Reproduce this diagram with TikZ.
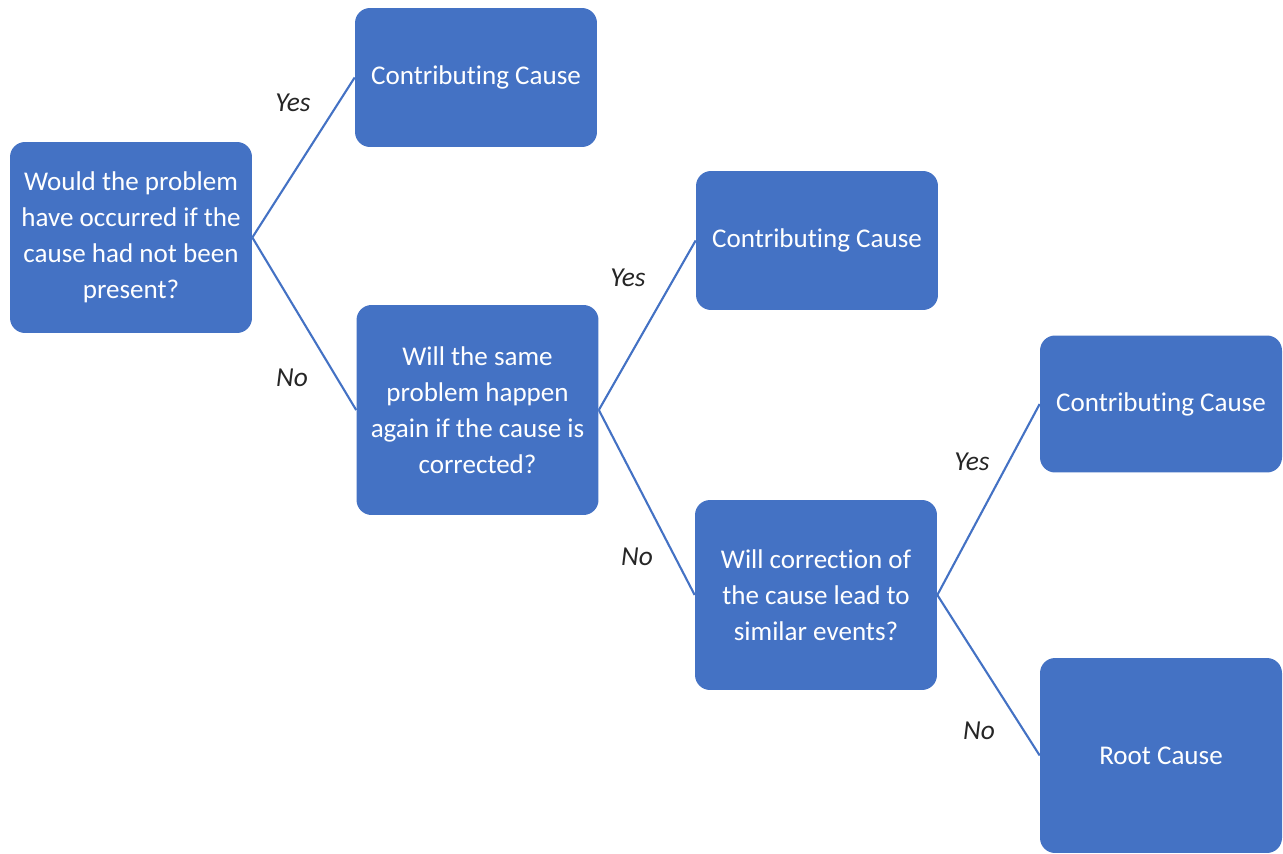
\documentclass[tikz,border=0pt]{standalone}
\usepackage{fontspec}
\setmainfont[RawFeature={-liga,-clig,-calt,-dlig}]{Carlito}
\definecolor{boxblue}{HTML}{4472C4}
\definecolor{labelgray}{HTML}{262626}
\begin{document}
\begin{tikzpicture}[x=0.02cm,y=-0.02cm,
  box/.style={rectangle, rounded corners=0.3cm, fill=boxblue, draw=none,
    text=white, align=center, inner sep=0pt, minimum width=4.84cm,
    font=\fontsize{15.4}{20.5}\selectfont},
  conn/.style={draw=boxblue, line width=1.2pt},
  lbl/.style={text=labelgray, font=\fontsize{15.6}{19}\selectfont\itshape, inner sep=0pt}]
\useasboundingbox (0,0) rectangle (1283,854);
\node[box, minimum height=3.82cm] (q1) at (131,237.5) {Would the problem\\have occurred if the\\cause had not been\\present?};
\node[box, minimum height=2.78cm] (cc1) at (476,77.5) {Contributing Cause};
\node[box, minimum height=4.2cm] (q2) at (477.5,410) {Will the same\\problem happen\\again if the cause is\\corrected?};
\node[box, minimum height=2.78cm] (cc2) at (817,240.5) {Contributing Cause};
\node[box, minimum height=3.8cm] (q3) at (816,595) {Will correction of\\the cause lead to\\similar events?};
\node[box, minimum height=2.74cm] (cc3) at (1161,404) {Contributing Cause};
\node[box, minimum height=3.9cm] (root) at (1161,755.5) {Root Cause};
\draw[conn] (q1.east) -- (cc1.west);
\draw[conn] (q1.east) -- (q2.west);
\draw[conn] (q2.east) -- (cc2.west);
\draw[conn] (q2.east) -- (q3.west);
\draw[conn] (q3.east) -- (cc3.west);
\draw[conn] (q3.east) -- (root.west);
\node[lbl] (y1) at (293,103) {Yes};
\node[lbl] (n1) at (292,378) {No};
\node[lbl] (y2) at (628,278) {Yes};
\node[lbl] (n2) at (637,557) {No};
\node[lbl] (y3) at (972,462) {Yes};
\node[lbl] (n3) at (979,731) {No};
\end{tikzpicture}
\end{document}
